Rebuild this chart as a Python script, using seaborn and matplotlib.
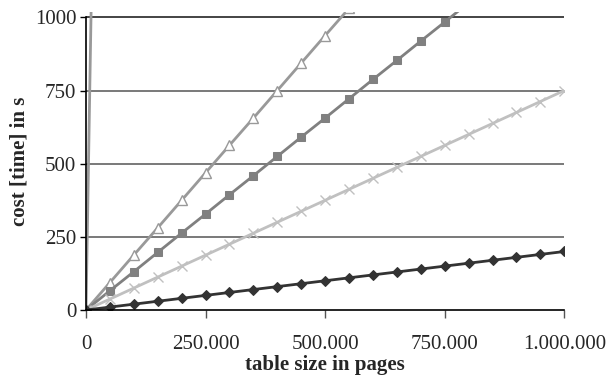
import numpy as np
import matplotlib
matplotlib.use("Agg")
import matplotlib.pyplot as plt
from matplotlib.ticker import FuncFormatter
import seaborn as sns

# table size in pages (one point every 50.000 pages)
pages = [0, 50000, 100000, 150000, 200000, 250000, 300000, 350000, 400000,
         450000, 500000, 550000, 600000, 650000, 700000, 750000, 800000,
         850000, 900000, 950000, 1000000]

cost_diamond = [0, 10, 20, 30, 40, 50, 60, 70, 80, 90, 100, 110, 120, 130,
                140, 150, 160, 170, 180, 190, 200]
cost_cross = [0, 37.5, 75, 112.5, 150, 187.5, 225, 262.5, 300, 337.5, 375,
              412.5, 450, 487.5, 525, 562.5, 600, 637.5, 675, 712.5, 750]
cost_square = [0, 66, 131, 197, 263, 328, 394, 459, 525, 591, 656, 722, 788,
               853, 919, 984, 1050, 1116, 1181, 1247, 1313]
cost_triangle = [0, 94, 188, 281, 375, 469, 563, 656, 750, 844, 938, 1031,
                 1125, 1219, 1313, 1406, 1500, 1594, 1688, 1781, 1875]
# very steep series, only its start is visible
steep_pages = [0, 50000]
cost_steep = [0, 4800]

y_ticks = [0, 250, 500, 750, 1000]
x_ticks = [0, 250000, 500000, 750000, 1000000]

sns.set_style("white")
plt.rcParams['font.family'] = ['Liberation Serif', 'DejaVu Serif']

fig, ax = plt.subplots(figsize=(6.1, 3.79), dpi=100)
fig.subplots_adjust(left=0.141, right=0.925, top=0.968, bottom=0.182)

for y in y_ticks[1:]:
    ax.axhline(y, color='#555555' if y < 1000 else '#111111', lw=1.1, zorder=0)

sns.lineplot(x=steep_pages, y=cost_steep, ax=ax, color='#999999', lw=2)
sns.lineplot(x=pages, y=cost_triangle, ax=ax, color='#999999', lw=2,
             marker='^', markersize=7, markerfacecolor='white',
             markeredgecolor='#999999', markeredgewidth=1)
sns.lineplot(x=pages, y=cost_square, ax=ax, color='#808080', lw=2,
             marker='s', markersize=6, markeredgecolor='#808080')
sns.lineplot(x=pages, y=cost_cross, ax=ax, color='#c0c0c0', lw=2,
             marker='x', markersize=7, markeredgewidth=1,
             markeredgecolor='#c0c0c0')
sns.lineplot(x=pages, y=cost_diamond, ax=ax, color='#333333', lw=2,
             marker='D', markersize=5, markeredgecolor='#333333')

ax.set_xlim(0, 1000000)
ax.set_ylim(0, 1018)
ax.set_xticks(x_ticks)
ax.set_yticks(y_ticks)
ax.xaxis.set_major_formatter(FuncFormatter(lambda v, p: f"{int(v):,}".replace(",", ".")))

for s in ['top', 'right']:
    ax.spines[s].set_visible(False)
for s in ['left', 'bottom']:
    ax.spines[s].set_color('black')
    ax.spines[s].set_linewidth(1.2)
ax.spines['left'].set_bounds(0, 1000)

ax.tick_params(axis='x', direction='out', length=6, width=1, color='#555555',
               labelsize=15, pad=12)
ax.tick_params(axis='y', direction='out', length=4, width=1, color='black',
               labelsize=15, pad=3)
ax.yaxis.set_ticks_position('left')
ax.xaxis.set_ticks_position('bottom')

ax.set_xlabel('table size in pages', fontsize=15, fontweight='bold', labelpad=1)
ax.set_ylabel('cost [time] in s', fontsize=15, fontweight='bold', labelpad=4)

fig.savefig('out.png', dpi=100)
